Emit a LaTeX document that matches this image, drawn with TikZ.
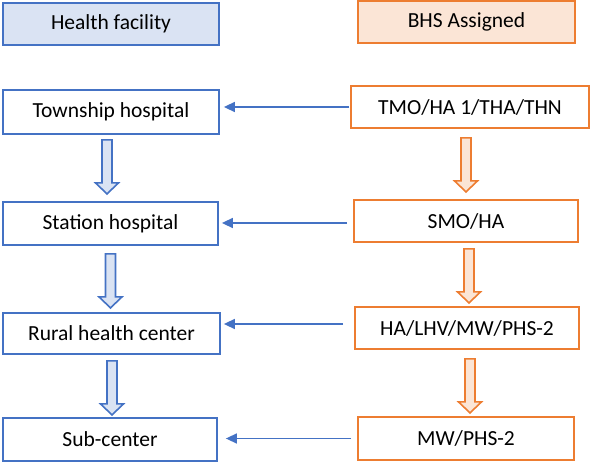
\documentclass[tikz,border=0pt]{standalone}
\usepackage{fontspec}
\setmainfont{Carlito}
\usetikzlibrary{arrows.meta,calc}
\definecolor{bl}{HTML}{4472C4}
\definecolor{blf}{HTML}{DAE3F3}
\definecolor{orn}{HTML}{ED7D31}
\definecolor{ornf}{HTML}{FBE5D6}
\tikzset{
  blockarrow/.pic={\path[pic actions] (-5,0)--(5,0)--(5,43)--(11.5,43)--(0,54)--(-11.5,43)--(-5,43)--cycle;},
  basebox/.style={line width=1.8pt, inner sep=0pt, font=\fontsize{21.5}{24}\selectfont, text=black},
  bbox/.style={basebox, draw=bl, fill=white},
  hbox/.style={basebox, draw=bl, fill=blf},
  obox/.style={basebox, draw=orn, fill=white},
  ohbox/.style={basebox, draw=orn, fill=ornf},
  barrow/.style={draw=bl, fill=blf, line width=1.6pt},
  oarrow/.style={draw=orn, fill=ornf, line width=1.6pt},
  conn/.style={draw=bl, line width=1.5pt, -{Triangle[length=11pt,width=10pt]}}
}
\begin{document}
\begin{tikzpicture}[x=1pt,y=-1pt]
\useasboundingbox (0,0) rectangle (590,462);
% left column
\node[hbox, minimum width=216pt, minimum height=42pt] (hf) at (111,24) {Health facility};
\node[bbox, minimum width=216pt, minimum height=44pt] (th) at (111,112) {Township hospital};
\node[bbox, minimum width=215pt, minimum height=43pt] (sh) at (110.5,223.5) {Station hospital};
\node[bbox, minimum width=217pt, minimum height=41pt] (rhc) at (111.5,333.5) {Rural health center};
\node[bbox, minimum width=214pt, minimum height=43pt] (sub) at (110,439.5) {Sub-center};
% right column
\node[ohbox, minimum width=217pt, minimum height=42pt] (bhs) at (466.5,22) {BHS Assigned};
\node[obox, minimum width=238pt, minimum height=42pt] (tmo) at (470,107) {TMO/HA 1/THA/THN};
\node[obox, minimum width=224pt, minimum height=42pt] (smo) at (466,221) {SMO/HA};
\node[obox, minimum width=224pt, minimum height=42pt] (ha) at (467,328) {HA/LHV/MW/PHS-2};
\node[obox, minimum width=216pt, minimum height=43pt] (mw) at (466,438.5) {MW/PHS-2};
% block arrows
\pic[barrow] at ($(th.south)+(-4,5)$) {blockarrow};
\pic[barrow] at ($(sh.south)+(0,8)$) {blockarrow};
\pic[barrow] at ($(rhc.south)+(0.5,6)$) {blockarrow};
\pic[oarrow] at ($(tmo.south)+(-4,9)$) {blockarrow};
\pic[oarrow] at ($(smo.south)+(3,6)$) {blockarrow};
\pic[oarrow] at ($(ha.south)+(3,9)$) {blockarrow};
% connectors
\draw[conn, shorten <=1pt, shorten >=4pt] (tmo.west) -- (tmo.west -| th.east);
\draw[conn, shorten <=6pt, shorten >=3pt] ([yshift=-2]smo.west) -- ([yshift=-2]smo.west -| sh.east);
\draw[conn, shorten <=11pt, shorten >=3pt] ([yshift=4]ha.west) -- ([yshift=4]ha.west -| rhc.east);
\draw[conn, shorten <=6pt, shorten >=8pt] (mw.west) -- (mw.west -| sub.east);
\end{tikzpicture}
\end{document}
